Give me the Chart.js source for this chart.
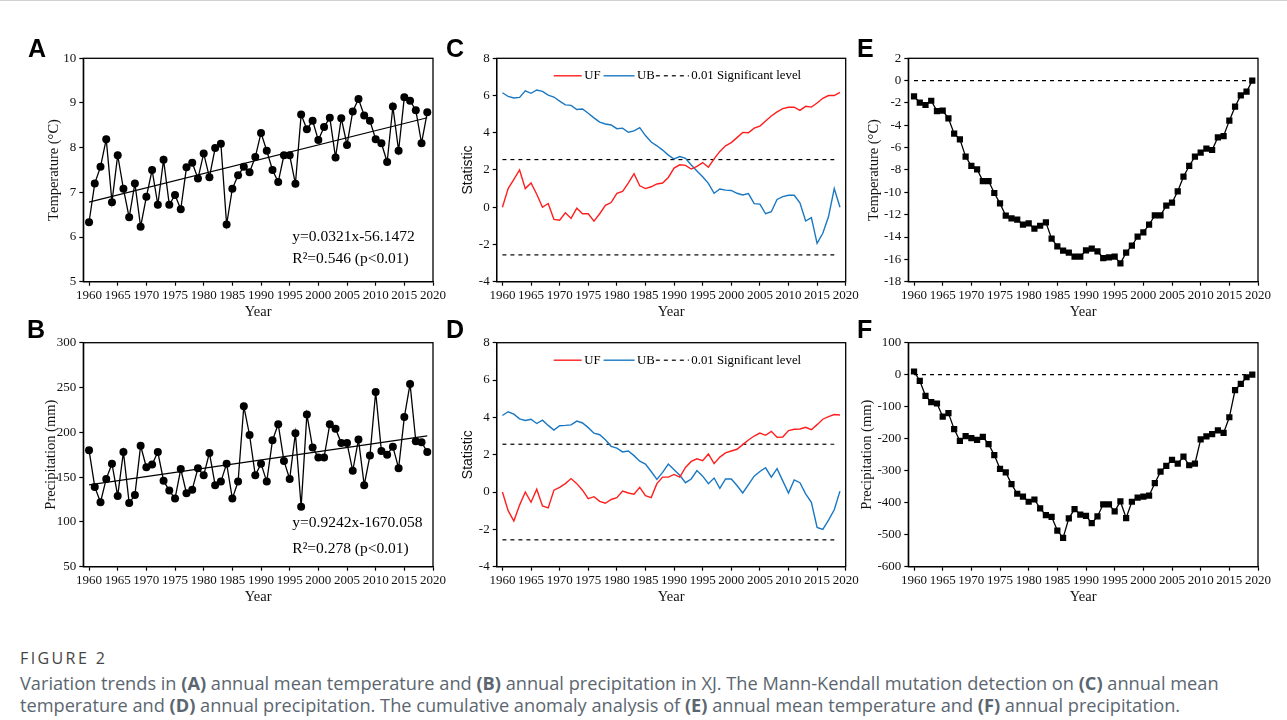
<!DOCTYPE html>
<html>
<head>
<meta charset="utf-8">
<script src="https://cdn.jsdelivr.net/npm/chart.js@4.4.0/dist/chart.umd.min.js"></script>
<style>
  body { margin: 0; background: #fff; width: 1287px; height: 720px; overflow: hidden; position: relative; font-family: "Open Sans", "Noto Sans", sans-serif; }
  .topline { position: absolute; left: 0; top: 0; width: 1287px; height: 1px; background: #d0d0d0; }
  canvas { position: absolute; }
  .tag { position: absolute; font: bold 25px "Liberation Sans", Arial, sans-serif; line-height: 25px; color: #000; }
  .fig { position: absolute; left: 20px; top: 647px; font-size: 16px; letter-spacing: 2.4px; color: #454545; }
  .cap { position: absolute; left: 20px; top: 672px; font-size: 18.2px; line-height: 22px; color: #5b6670; white-space: nowrap; }
</style>
</head>
<body>
<div class="topline"></div>

<canvas id="chartA"></canvas>
<canvas id="chartB"></canvas>
<canvas id="chartC"></canvas>
<canvas id="chartD"></canvas>
<canvas id="chartE"></canvas>
<canvas id="chartF"></canvas>

<div class="tag" style="left:28px;top:36px">A</div>
<div class="tag" style="left:27px;top:317px">B</div>
<div class="tag" style="left:446px;top:36px">C</div>
<div class="tag" style="left:446px;top:317px">D</div>
<div class="tag" style="left:857px;top:36px">E</div>
<div class="tag" style="left:857px;top:317px">F</div>

<div class="fig">FIGURE 2</div>
<div class="cap">Variation trends in <b>(A)</b> annual mean temperature and <b>(B)</b> annual precipitation in XJ. The Mann-Kendall mutation detection on <b>(C)</b> annual mean<br>temperature and <b>(D)</b> annual precipitation. The cumulative anomaly analysis of <b>(E)</b> annual mean temperature and <b>(F)</b> annual precipitation.</div>

<script>
// ---- data ----
const years = [
  1960, 1961, 1962, 1963, 1964, 1965, 1966, 1967, 1968, 1969,
  1970, 1971, 1972, 1973, 1974, 1975, 1976, 1977, 1978, 1979,
  1980, 1981, 1982, 1983, 1984, 1985, 1986, 1987, 1988, 1989,
  1990, 1991, 1992, 1993, 1994, 1995, 1996, 1997, 1998, 1999,
  2000, 2001, 2002, 2003, 2004, 2005, 2006, 2007, 2008, 2009,
  2010, 2011, 2012, 2013, 2014, 2015, 2016, 2017, 2018, 2019
];
const yearTicks = [1960, 1965, 1970, 1975, 1980, 1985, 1990, 1995, 2000, 2005, 2010, 2015, 2020];

// (A) annual mean temperature, °C
const temperature = [
  6.33, 7.20, 7.57, 8.19, 6.78, 7.83, 7.08, 6.44, 7.20, 6.23,
  6.90, 7.50, 6.72, 7.73, 6.72, 6.94, 6.62, 7.56, 7.66, 7.31,
  7.87, 7.34, 7.99, 8.09, 6.28, 7.08, 7.38, 7.57, 7.45, 7.79,
  8.33, 7.93, 7.50, 7.23, 7.83, 7.83, 7.19, 8.74, 8.41, 8.60,
  8.17, 8.46, 8.67, 7.78, 8.66, 8.06, 8.81, 9.09, 8.72, 8.60,
  8.19, 8.10, 7.68, 8.92, 7.93, 9.13, 9.05, 8.84, 8.10, 8.79
];
const trendYears = [1960, 2019];
const temperatureTrend = [6.78, 8.67];

// (B) annual precipitation, mm
const precipitation = [
  180, 139, 122, 148, 165, 129, 178, 121, 130, 185,
  161, 164, 178, 146, 135, 126, 159, 132, 136, 160,
  152, 177, 141, 145, 165, 126, 145, 229, 197, 152,
  165, 145, 191, 209, 168, 148, 199, 117, 220, 183,
  172, 172, 209, 204, 188, 188, 157, 192, 141, 174,
  245, 179, 175, 184, 160, 217, 254, 190, 189, 178
];
const precipitationTrend = [141.4, 196.0];

// (C) Mann-Kendall, temperature
const ufTemperature = [
  0, 1.0, 1.5, 2.0, 1.0, 1.3, 0.7, 0.0, 0.2, -0.65,
  -0.7, -0.3, -0.6, -0.05, -0.35, -0.35, -0.75, -0.35, 0.1, 0.25,
  0.75, 0.85, 1.3, 1.8, 1.15, 1.0, 1.1, 1.25, 1.3, 1.6,
  2.1, 2.28, 2.25, 2.05, 2.2, 2.4, 2.15, 2.6, 3.0, 3.3,
  3.47, 3.74, 4.02, 4.0, 4.25, 4.36, 4.63, 4.9, 5.12, 5.3,
  5.37, 5.37, 5.2, 5.42, 5.38, 5.6, 5.85, 6.0, 6.0, 6.17
];
const ubTemperature = [
  6.15, 5.95, 5.87, 5.9, 6.25, 6.12, 6.3, 6.22, 6.02, 5.92,
  5.7, 5.5, 5.47, 5.25, 5.28, 5.05, 4.8, 4.57, 4.47, 4.42,
  4.22, 4.25, 4.03, 4.1, 4.28, 3.85, 3.5, 3.3, 3.07, 2.8,
  2.59, 2.72, 2.63, 2.27, 1.95, 1.64, 1.28, 0.75, 0.98, 0.92,
  0.9, 0.75, 0.66, 0.73, 0.19, 0.17, -0.35, -0.24, 0.42, 0.57,
  0.64, 0.64, 0.24, -0.74, -0.56, -1.94, -1.4, -0.5, 1.0, 0.0
];

// (D) Mann-Kendall, precipitation
const ufPrecipitation = [
  0, -1.0, -1.55, -0.7, 0.0, -0.55, 0.15, -0.75, -0.85, 0.1,
  0.25, 0.45, 0.72, 0.45, 0.1, -0.35, -0.25, -0.5, -0.6, -0.4,
  -0.3, 0.05, -0.05, -0.12, 0.25, -0.2, -0.3, 0.45, 0.8, 0.8,
  0.94, 0.8, 1.32, 1.64, 1.78, 1.68, 2.04, 1.52, 1.87, 2.1,
  2.2, 2.29, 2.54, 2.79, 3.0, 3.16, 3.04, 3.25, 2.93, 2.95,
  3.29, 3.36, 3.38, 3.47, 3.34, 3.61, 3.9, 4.04, 4.15, 4.13
];
const ubPrecipitation = [
  4.1, 4.3, 4.17, 3.92, 3.83, 3.9, 3.67, 3.85, 3.57, 3.32,
  3.55, 3.57, 3.6, 3.8, 3.7, 3.45, 3.15, 3.07, 2.8, 2.45,
  2.35, 2.15, 2.2, 1.95, 1.65, 1.5, 1.1, 0.68, 1.05, 1.5,
  1.2, 0.9, 0.5, 0.7, 1.15, 0.85, 0.45, 0.75, 0.2, 0.7,
  0.7, 0.35, -0.05, 0.4, 0.85, 1.1, 1.3, 0.8, 1.25, 0.6,
  -0.05, 0.65, 0.5, -0.1, -0.55, -1.9, -2.0, -1.5, -0.95, 0.05
];
const sigYears = [1960, 2018];
const sigLevel = 2.56;

// (E) cumulative anomaly, temperature
const cumTemperature = [
  -1.4, -1.97, -2.18, -1.8, -2.72, -2.69, -3.37, -4.75, -5.25, -6.8,
  -7.64, -7.94, -8.99, -8.99, -10.06, -10.99, -12.09, -12.33, -12.45, -12.9,
  -12.78, -13.25, -12.99, -12.69, -14.15, -14.84, -15.22, -15.4, -15.76, -15.76,
  -15.19, -15.04, -15.28, -15.88, -15.82, -15.76, -16.36, -15.4, -14.78, -13.97,
  -13.58, -12.9, -12.06, -12.06, -11.19, -10.93, -9.91, -8.6, -7.64, -6.81,
  -6.45, -6.09, -6.21, -5.07, -4.96, -3.58, -2.33, -1.31, -0.99, 0.0
];
// (F) cumulative anomaly, precipitation
const cumPrecipitation = [
  10, -19, -66, -86, -90, -131, -120, -170, -207, -192,
  -198, -204, -194, -217, -251, -294, -305, -342, -372, -381,
  -397, -390, -418, -439, -444, -487, -510, -449, -420, -437,
  -441, -464, -443, -405, -405, -427, -396, -448, -397, -384,
  -381, -378, -339, -303, -285, -266, -278, -256, -283, -278,
  -202, -193, -186, -174, -182, -133, -48, -29, -8, 0
];
const zeroYears = [1960, 2019];

// ---- drawing ----
const serif = '"Liberation Serif", "Times New Roman", serif';
const sans = '"Liberation Sans", Arial, sans-serif';
Chart.defaults.font.family = serif;
Chart.defaults.color = '#000';

const RED = '#ff1e1e';
const BLUE = '#1a78c2';
const TICK_SIZE = 13;
const TITLE_SIZE = 14.5;

const pts = (xs, ys) => xs.map((x, i) => ({ x, y: ys[i] }));
const flat = (xs, v) => xs.map(x => ({ x, y: v }));

const boxFrame = {
  id: 'boxFrame',
  afterDraw(chart) {
    const { ctx, chartArea: a } = chart;
    ctx.save();
    ctx.strokeStyle = '#000';
    ctx.lineWidth = 1.3;
    ctx.strokeRect(a.left, a.top, a.right - a.left, a.bottom - a.top);
    ctx.restore();
  }
};

function legendPlugin() {
  return {
    id: 'inLegend',
    afterDatasetsDraw(chart) {
      const { ctx, chartArea: a } = chart;
      ctx.save();
      ctx.font = '12.8px ' + serif;
      ctx.textBaseline = 'middle';
      let x = a.left + 57;
      const y = a.top + 17.5;
      chart.data.datasets.filter(d => d.legendLen).forEach(d => {
        ctx.beginPath();
        ctx.strokeStyle = d.borderColor;
        ctx.lineWidth = d.borderWidth;
        ctx.setLineDash(d.borderDash || []);
        ctx.moveTo(x, y);
        ctx.lineTo(x + d.legendLen, y);
        ctx.stroke();
        ctx.setLineDash([]);
        x += d.legendLen + 2.5;
        ctx.fillStyle = '#000';
        ctx.fillText(d.label, x, y);
        x += ctx.measureText(d.label).width + d.legendGap;
      });
      ctx.restore();
    }
  };
}

function textPlugin(lines) {
  return {
    id: 'eqText',
    afterDraw(chart) {
      const { ctx, chartArea: a } = chart;
      ctx.save();
      ctx.font = '15.5px ' + serif;
      ctx.fillStyle = '#000';
      ctx.textBaseline = 'middle';
      lines.forEach(l => ctx.fillText(l.text, a.left + l.dx, a.top + l.dy));
      ctx.restore();
    }
  };
}

function makePanel(id, lay, yCfg, datasets, extraPlugins) {
  const [L, T, R, B] = lay.area;
  const xlh = TITLE_SIZE * 1.2;
  const ylh = yCfg.titleSize * 1.2;
  const cl = Math.floor(lay.yTitleX - ylh / 2) - 2;
  const ct = Math.floor(T) - 14;
  const cr = Math.ceil(R) + 24;
  const cb = Math.ceil(lay.xTitleY + xlh / 2) + 2;
  const cv = document.getElementById(id);
  cv.width = cr - cl;
  cv.height = cb - ct;
  cv.style.left = cl + 'px';
  cv.style.top = ct + 'px';
  cv.style.width = (cr - cl) + 'px';
  cv.style.height = (cb - ct) + 'px';

  const tickFont = { family: serif, size: TICK_SIZE };
  const axisGrid = { display: true, drawOnChartArea: false, drawTicks: true, tickLength: 4, tickColor: '#000', tickWidth: 1.2 };
  const axisBorder = { display: true, color: '#000', width: 1.3 };

  return new Chart(cv, {
    type: 'line',
    data: { datasets },
    options: {
      responsive: false,
      animation: false,
      events: [],
      layout: { padding: { left: 0, top: T - ct, right: cr - R, bottom: 0 } },
      plugins: { legend: { display: false }, tooltip: { enabled: false } },
      scales: {
        x: {
          type: 'linear', min: 1959, max: 2020,
          afterBuildTicks: s => { s.ticks = yearTicks.map(v => ({ value: v })); },
          afterFit: s => { s.height = cb - B; },
          ticks: { font: tickFont, color: '#111', padding: 2, autoSkip: false, maxRotation: 0, minRotation: 0, callback: v => String(v) },
          title: { display: true, text: 'Year', color: '#111', font: { family: serif, size: TITLE_SIZE }, padding: { top: 0, bottom: cb - lay.xTitleY - xlh / 2 } },
          grid: axisGrid, border: axisBorder
        },
        y: {
          min: yCfg.min, max: yCfg.max,
          afterFit: s => { s.width = L - cl; },
          ticks: { stepSize: yCfg.step, font: tickFont, color: '#111', padding: 3 },
          title: { display: true, text: yCfg.title, color: '#111', font: { family: yCfg.titleFont, size: yCfg.titleSize }, padding: { top: lay.yTitleX - ylh / 2 - cl, bottom: 0 } },
          grid: axisGrid, border: axisBorder
        }
      }
    },
    plugins: [boxFrame].concat(extraPlugins || [])
  });
}

const lineStyle = { borderColor: '#000', borderWidth: 1.3, tension: 0, fill: false };
const dotStyle = { pointRadius: 4, pointBackgroundColor: '#000', pointBorderWidth: 0 };
const squareStyle = { pointStyle: 'rect', pointRadius: 4.4, pointBackgroundColor: '#000', pointBorderWidth: 0 };
const dashStyle = { borderColor: '#000', borderWidth: 1.2, borderDash: [4, 4], pointRadius: 0, fill: false };

document.addEventListener('DOMContentLoaded', () => {
  makePanel('chartA', { area: [83.3, 58.3, 433, 281.7], yTitleX: 54, xTitleY: 312 },
    { min: 5, max: 10, step: 1, title: 'Temperature (°C)', titleFont: serif, titleSize: TITLE_SIZE },
    [
      { label: 'trend', data: pts(trendYears, temperatureTrend), borderColor: '#000', borderWidth: 1.2, pointRadius: 0 },
      { label: 'temperature', data: pts(years, temperature), ...lineStyle, ...dotStyle }
    ],
    [textPlugin([{ text: 'y=0.0321x-56.1472', dx: 209, dy: 178.5 }, { text: 'R²=0.546 (p<0.01)', dx: 209, dy: 200.5 }])]);

  makePanel('chartB', { area: [83.3, 342.7, 433, 566.7], yTitleX: 51, xTitleY: 597 },
    { min: 50, max: 300, step: 50, title: 'Precipitation (mm)', titleFont: serif, titleSize: TITLE_SIZE },
    [
      { label: 'trend', data: pts(trendYears, precipitationTrend), borderColor: '#000', borderWidth: 1.2, pointRadius: 0 },
      { label: 'precipitation', data: pts(years, precipitation), ...lineStyle, ...dotStyle }
    ],
    [textPlugin([{ text: 'y=0.9242x-1670.058', dx: 209, dy: 180.5 }, { text: 'R²=0.278 (p<0.01)', dx: 209, dy: 206 }])]);

  const mkDatasets = (uf, ub) => [
    { label: 'UF', data: pts(years, uf), borderColor: RED, borderWidth: 1.4, pointRadius: 0, legendLen: 28, legendGap: 3 },
    { label: 'UB', data: pts(years, ub), borderColor: BLUE, borderWidth: 1.4, pointRadius: 0, legendLen: 31, legendGap: 1 },
    { label: '0.01 Significant level', data: flat(sigYears, sigLevel), ...dashStyle, legendLen: 33, legendGap: 0 },
    { label: '', data: flat(sigYears, -sigLevel), ...dashStyle }
  ];

  makePanel('chartC', { area: [496.7, 58.3, 845.7, 281.7], yTitleX: 468, xTitleY: 312 },
    { min: -4, max: 8, step: 2, title: 'Statistic', titleFont: sans, titleSize: 14 },
    mkDatasets(ufTemperature, ubTemperature), [legendPlugin()]);

  makePanel('chartD', { area: [496.7, 342.7, 845.7, 566.7], yTitleX: 468, xTitleY: 597 },
    { min: -4, max: 8, step: 2, title: 'Statistic', titleFont: sans, titleSize: 14 },
    mkDatasets(ufPrecipitation, ubPrecipitation), [legendPlugin()]);

  makePanel('chartE', { area: [908.3, 58.3, 1258, 281.7], yTitleX: 874, xTitleY: 312 },
    { min: -18, max: 2, step: 2, title: 'Temperature (°C)', titleFont: serif, titleSize: TITLE_SIZE },
    [
      { label: 'zero', data: flat(zeroYears, 0), ...dashStyle },
      { label: 'cumulative', data: pts(years, cumTemperature), ...lineStyle, ...squareStyle }
    ]);

  makePanel('chartF', { area: [908.3, 342.7, 1258, 566.7], yTitleX: 867, xTitleY: 597 },
    { min: -600, max: 100, step: 100, title: 'Precipitation (mm)', titleFont: serif, titleSize: TITLE_SIZE },
    [
      { label: 'zero', data: flat(zeroYears, 0), ...dashStyle },
      { label: 'cumulative', data: pts(years, cumPrecipitation), ...lineStyle, ...squareStyle }
    ]);
});
</script>
</body>
</html>
